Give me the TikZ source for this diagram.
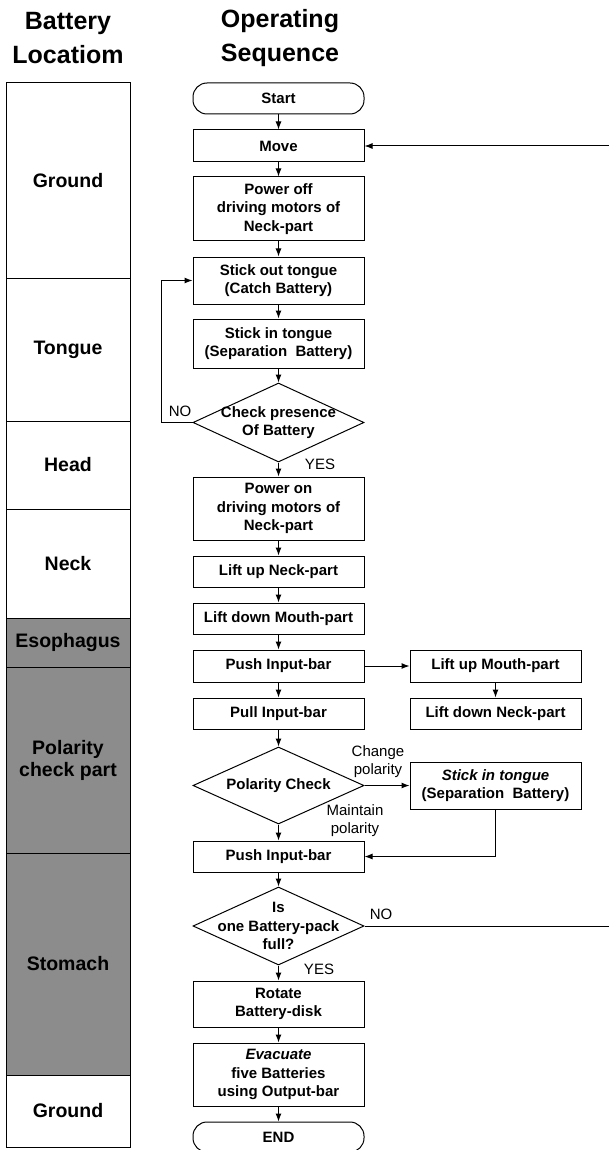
\documentclass[tikz,border=0pt]{standalone}
\usepackage{fontspec}
\setmainfont{Liberation Sans}
\usetikzlibrary{arrows.meta, positioning, shapes.geometric}

\tikzset{
    stepbox/.style={draw, line width=1pt, minimum width=171pt, inner sep=0pt, align=center,
        font=\fontsize{15}{18.3}\selectfont\bfseries},
    term/.style={stepbox, rounded corners=14pt},
    decide/.style={draw, diamond, line width=1pt, minimum width=171pt, inner sep=0pt},
    dtext/.style={inner sep=0pt, align=center, font=\fontsize{15}{18.3}\selectfont\bfseries},
    flow/.style={-{Latex[length=8pt,width=6pt]}, line width=1pt},
    loc/.style={draw, line width=1pt, minimum width=124pt, inner sep=0pt, align=center,
        font=\fontsize{19.5}{22}\selectfont\bfseries},
    gut/.style={loc, fill=black!45},
    note/.style={inner sep=0pt, align=center, font=\fontsize{15}{18}\selectfont},
    head/.style={inner sep=0pt, align=center, font=\fontsize{25}{34}\selectfont\bfseries}
}

\begin{document}
\begin{tikzpicture}[x=1pt, y=-1pt]
        \useasboundingbox (0,0) rectangle (609,1150);

        \node[head] (hloc) at (68,38) {Battery\\Locatiom};
        \node[head] (hseq) at (280,38) {Operating\\Sequence};

        % battery location
        \node[loc, minimum height=195pt] (lground) at (68,180.5) {Ground};
        \node[loc, minimum height=143pt] (ltongue) at (68,349.5) {Tongue};
        \node[loc, minimum height=88pt] (lhead) at (68,465) {Head};
        \node[loc, minimum height=109pt] (lneck) at (68,563.5) {Neck};
        \node[gut, minimum height=49pt] (lesoph) at (68,642.5) {Esophagus};
        \node[gut, minimum height=186pt] (lpolar) at (68,760) {Polarity\\check part};
        \node[gut, minimum height=222pt] (lstomach) at (68,964) {Stomach};
        \node[loc, minimum height=72pt] (lground2) at (68,1111) {Ground};

        % operating sequence
        \node[term, minimum height=31pt] (start) at (278.5,98.5) {Start};
        \node[stepbox, minimum height=32pt] (move) at (278.5,146) {Move};
        \node[stepbox, minimum height=64pt] (pwroff) at (278.5,209) {Power off\\driving motors of\\Neck-part};
        \node[stepbox, minimum height=47pt] (stickout) at (278.5,280.5) {Stick out tongue\\(Catch Battery)};
        \node[stepbox, minimum height=49pt] (stickin) at (278.5,343.5) {Stick in tongue\\(Separation\ \ Battery)};
        \node[decide, minimum height=79pt] (chkbat) at (278.5,422.5) {};
        \node[dtext] (chkbatt) at (chkbat) {Check presence\\Of Battery};
        \node[stepbox, minimum height=63pt] (pwron) at (278.5,508.5) {Power on\\driving motors of\\Neck-part};
        \node[stepbox, minimum height=31pt] (liftneck) at (278.5,571.5) {Lift up Neck-part};
        \node[stepbox, minimum height=31pt] (dropmouth) at (278.5,618.5) {Lift down Mouth-part};
        \node[stepbox, minimum height=32pt] (push) at (278.5,666) {Push Input-bar};
        \node[stepbox, minimum height=31pt] (pull) at (278.5,713.5) {Pull Input-bar};
        \node[decide, minimum height=77pt] (polchk) at (278.5,785.5) {};
        \node[dtext] (polchkt) at (polchk) {Polarity Check};
        \node[stepbox, minimum height=31pt] (push2) at (278.5,856.5) {Push Input-bar};
        \node[decide, minimum height=78pt] (full) at (278.5,926) {};
        \node[dtext] (fullt) at (full) {Is\\one Battery-pack\\full?};
        \node[stepbox, minimum height=46pt] (rotate) at (278.5,1004) {Rotate\\Battery-disk};
        \node[stepbox, minimum height=63pt] (evac) at (278.5,1074.5) {\textit{Evacuate}\\five Batteries\\using Output-bar};
        \node[term, minimum height=30pt] (finish) at (278.5,1137) {END};

        \node[stepbox, minimum height=32pt] (upmouth) at (495.5,666) {Lift up Mouth-part};
        \node[stepbox, minimum height=31pt] (downneck) at (495.5,713.5) {Lift down Neck-part};
        \node[stepbox, minimum height=47pt] (stickin2) at (495.5,785.5) {\textit{Stick in tongue}\\(Separation\ \ Battery)};

        \coordinate (noturn) at (161,422.5);
        \coordinate (backin) at (609,146);
        \coordinate (backout) at (609,926);

        \foreach \a/\b in {start/move, move/pwroff, pwroff/stickout, stickout/stickin, stickin/chkbat,
            chkbat/pwron, pwron/liftneck, liftneck/dropmouth, dropmouth/push, push/pull, pull/polchk,
            polchk/push2, push2/full, full/rotate, rotate/evac, evac/finish}
            \draw[flow] (\a.south) -- (\b.north);

        \draw[flow] (push.east) -- (upmouth.west);
        \draw[flow] (upmouth.south) -- (downneck.north);
        \draw[flow] (polchk.east) -- (stickin2.west);
        \draw[flow] (stickin2.south) |- (push2.east);
        \draw[flow] (chkbat.west) -- (noturn) |- (stickout.west);
        \draw[line width=1pt] (full.east) -- (backout);
        \draw[flow] (backin) -- (move.east);

        \node[note] (nolbl) at (180,411) {NO};
        \node[note] (yeslbl) at (320,464) {YES};
        \node[note] (chglbl) at (378,762) {Change\\polarity};
        \node[note] (keeplbl) at (355,820.5) {Maintain\\polarity};
        \node[note] (nolbl2) at (381,914) {NO};
        \node[note] (yeslbl2) at (319,969) {YES};
    \end{tikzpicture}
\end{document}
